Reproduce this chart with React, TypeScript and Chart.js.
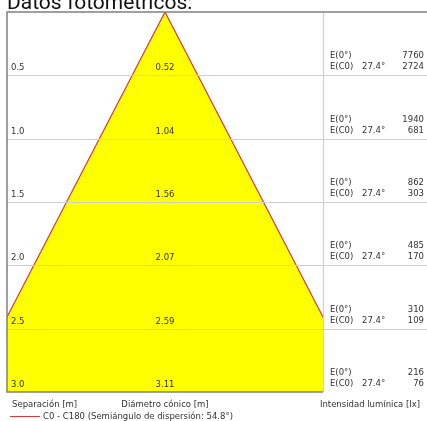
import React, { useEffect, useRef } from "react";
import { Chart, registerables } from "chart.js";

Chart.register(...registerables);

const distances = [0.5, 1.0, 1.5, 2.0, 2.5, 3.0];
const distanceLabels = ["0.5", "1.0", "1.5", "2.0", "2.5", "3.0"];
const diameterLabels = ["0.52", "1.04", "1.56", "2.07", "2.59", "3.11"];
const diameters = [0.52, 1.04, 1.56, 2.07, 2.59, 3.11];
const e0Values = ["7760", "1940", "862", "485", "310", "216"];
const ec0Values = ["2724", "681", "303", "170", "109", "76"];
const halfAngleLabel = "27.4°";
const titleText = "Datos fotométricos:";
const legendText = "C0 - C180 (Semiángulo de dispersión: 54.8°)";

const SMALL_FONT = "8.5px 'DejaVu Sans'";
const TEXT_COLOR = "#333333";

const overlayPlugin = {
  id: "overlay",
  afterDatasetsDraw(chart: any) {
    const { ctx, chartArea, scales } = chart;
    const x = scales.x;
    const y = scales.y;
    const W = chart.width;
    const cx = x.getPixelForValue(0);
    ctx.save();
    // grid lines
    ctx.strokeStyle = "#cfcfcf";
    ctx.lineWidth = 1.2;
    distances.forEach((d, i) => {
      if (i === distances.length - 1) return;
      const py = Math.round(y.getPixelForValue(d)) + 0.5;
      ctx.beginPath();
      ctx.moveTo(chartArea.left, py);
      ctx.lineTo(W, py);
      ctx.stroke();
    });
    // divider
    ctx.beginPath();
    ctx.moveTo(chartArea.right + 0.5, chartArea.top);
    ctx.lineTo(chartArea.right + 0.5, chartArea.bottom);
    ctx.stroke();
    // frame
    ctx.strokeStyle = "#808080";
    ctx.lineWidth = 1.5;
    ctx.beginPath();
    ctx.moveTo(W, chartArea.top);
    ctx.lineTo(chartArea.left, chartArea.top);
    ctx.lineTo(chartArea.left, chartArea.bottom);
    ctx.lineTo(chartArea.right, chartArea.bottom);
    ctx.stroke();

    // row texts
    ctx.fillStyle = TEXT_COLOR;
    ctx.font = SMALL_FONT;
    ctx.textBaseline = "alphabetic";
    distances.forEach((d, i) => {
      const py = y.getPixelForValue(d);
      ctx.textAlign = "left";
      ctx.fillText(distanceLabels[i], chartArea.left + 4, py - 5);
      ctx.textAlign = "center";
      ctx.fillText(diameterLabels[i], cx, py - 5);
      ctx.textAlign = "left";
      ctx.fillText("E(0°)", chartArea.right + 7, py - 17);
      ctx.fillText("E(C0)", chartArea.right + 7, py - 6);
      ctx.fillText(halfAngleLabel, chartArea.right + 39, py - 6);
      ctx.textAlign = "right";
      ctx.fillText(e0Values[i], W - 3, py - 17);
      ctx.fillText(ec0Values[i], W - 3, py - 6);
    });

    // bottom labels
    ctx.textAlign = "left";
    ctx.fillText("Separación [m]", chartArea.left + 5, chartArea.bottom + 15);
    ctx.textAlign = "center";
    ctx.fillText("Diámetro cónico [m]", cx, chartArea.bottom + 15);
    ctx.textAlign = "right";
    ctx.fillText("Intensidad lumínica [lx]", W - 7, chartArea.bottom + 15);

    // legend
    ctx.strokeStyle = "#d9363e";
    ctx.lineWidth = 1;
    ctx.beginPath();
    ctx.moveTo(chartArea.left + 3, chartArea.bottom + 24.5);
    ctx.lineTo(chartArea.left + 33, chartArea.bottom + 24.5);
    ctx.stroke();
    ctx.textAlign = "left";
    ctx.fillText(legendText, chartArea.left + 36, chartArea.bottom + 27);

    // title
    ctx.font = "21px Roboto";
    ctx.fillStyle = "#111111";
    ctx.fillText(titleText, 7, 9);
    ctx.restore();
  },
};

export default function App() {
  const ref = useRef<HTMLCanvasElement | null>(null);
  useEffect(() => {
    if (!ref.current) return;
    const half = diameters[diameters.length - 1] / 2;
    const maxD = distances[distances.length - 1];
    const chart = new Chart(ref.current, {
      type: "scatter",
      data: {
        datasets: [
          {
            label: "C0 - C180",
            data: [
              { x: -half, y: maxD },
              { x: 0, y: 0 },
              { x: half, y: maxD },
            ],
            showLine: true,
            borderColor: "#d9363e",
            borderWidth: 1.2,
            backgroundColor: "#ffff00",
            fill: { value: maxD } as any,
            pointRadius: 0,
          },
        ],
      },
      options: {
        animation: false,
        responsive: false,
        devicePixelRatio: 1,
        layout: { padding: { left: 7, top: 12, right: 104, bottom: 29 } },
        plugins: { legend: { display: false }, tooltip: { enabled: false }, title: { display: false } },
        scales: {
          x: { type: "linear", min: -1.248, max: 1.248, display: false },
          y: { type: "linear", min: 0, max: maxD, reverse: true, display: false },
        },
      },
      plugins: [overlayPlugin],
    });
    return () => chart.destroy();
  }, []);
  return (
    <div style={{ position: "fixed", left: 0, top: 0, width: 427, height: 421, background: "#fff" }}>
      <canvas ref={ref} width={427} height={421} />
    </div>
  );
}
